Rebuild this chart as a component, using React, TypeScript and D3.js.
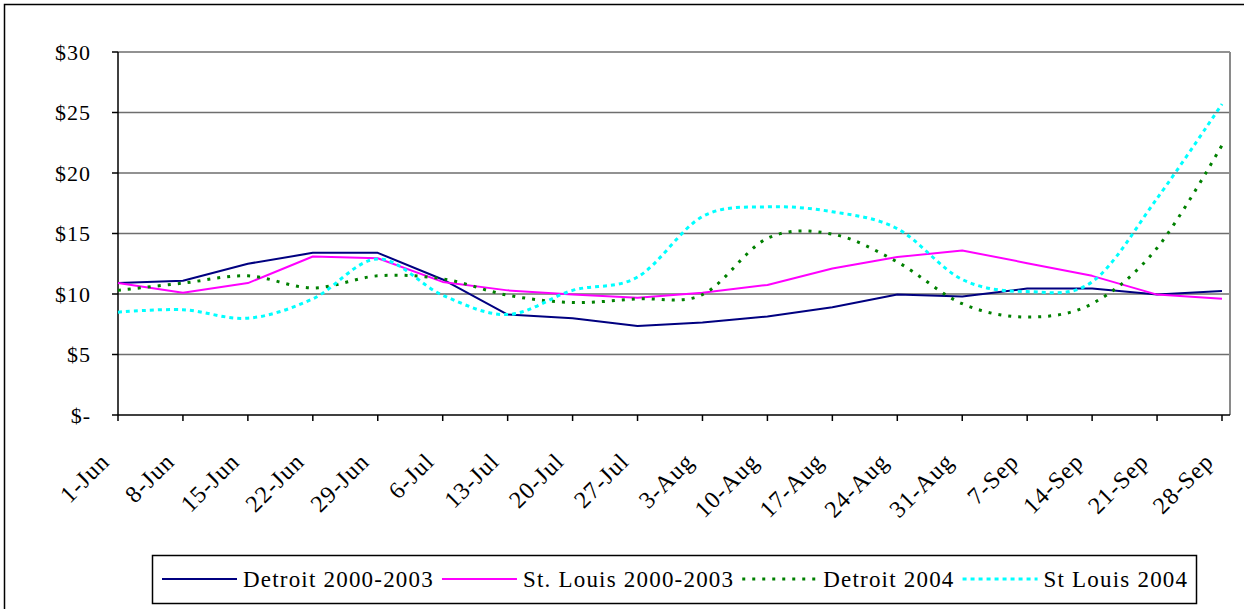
import React, { useEffect, useRef } from "react";
import * as d3 from "d3";

const categories = [
  "1-Jun", "8-Jun", "15-Jun", "22-Jun", "29-Jun", "6-Jul", "13-Jul", "20-Jul", "27-Jul",
  "3-Aug", "10-Aug", "17-Aug", "24-Aug", "31-Aug", "7-Sep", "14-Sep", "21-Sep", "28-Sep",
];

const detroit0003 = [10.9, 11.1, 12.5, 13.4, 13.4, 11.2, 8.3, 8.0, 7.35, 7.65, 8.15, 8.9, 9.95, 9.8, 10.45, 10.45, 9.95, 10.25];
const stlouis0003 = [10.9, 10.1, 10.9, 13.1, 12.95, 11.0, 10.3, 9.95, 9.7, 10.1, 10.75, 12.1, 13.05, 13.6, 12.55, 11.5, 9.95, 9.6];
const detroit2004 = [10.3, 10.9, 11.5, 10.5, 11.5, 11.25, 9.9, 9.3, 9.6, 9.95, 14.6, 14.95, 12.65, 9.2, 8.1, 9.2, 13.8, 22.3];
const stlouis2004 = [8.5, 8.7, 8.0, 9.6, 12.9, 9.9, 8.3, 10.3, 11.4, 16.4, 17.2, 16.8, 15.4, 11.2, 10.2, 11.0, 17.9, 25.7];

const yTicks = [0, 5, 10, 15, 20, 25, 30];
const yTickLabels = ["$-", "$5", "$10", "$15", "$20", "$25", "$30"];

const seriesNames = ["Detroit 2000-2003", "St. Louis 2000-2003", "Detroit 2004", "St Louis 2004"];
const seriesValues = [detroit0003, stlouis0003, detroit2004, stlouis2004];

const seriesStyles = [
  { color: "#000080", width: 2, dash: null as string | null, smooth: false },
  { color: "#FF00FF", width: 2, dash: null as string | null, smooth: false },
  { color: "#008000", width: 3, dash: "3,7", smooth: true },
  { color: "#00FFFF", width: 3, dash: "4,4", smooth: true },
];

const FONT = "'Liberation Serif', 'Times New Roman', serif";

export default function App() {
  const ref = useRef<SVGSVGElement | null>(null);

  useEffect(() => {
    document.body.style.margin = "0";
    const svg = d3.select(ref.current);
    svg.selectAll("*").remove();

    const W = 1244, H = 609;
    const left = 118, right = 1230, top = 52, bottom = 415;
    const lastX = 1222;

    const x = d3.scalePoint<string>().domain(categories).range([left, lastX]);
    const y = d3.scaleLinear().domain([0, 30]).range([bottom, top]);

    svg.append("rect").attr("width", W).attr("height", H).attr("fill", "#fff");

    // outer chart border
    svg.append("rect")
      .attr("x", 4.5).attr("y", 4.5).attr("width", W + 20).attr("height", H + 20)
      .attr("fill", "none").attr("stroke", "#000").attr("stroke-width", 1.5);

    // gridlines
    const g = svg.append("g");
    yTicks.forEach((t) => {
      if (t === 0) return;
      g.append("line")
        .attr("x1", left).attr("x2", right)
        .attr("y1", y(t)).attr("y2", y(t))
        .attr("stroke", "#6e6e6e").attr("stroke-width", 1.5);
    });
    // plot area right border
    g.append("line")
      .attr("x1", right).attr("x2", right).attr("y1", top).attr("y2", bottom)
      .attr("stroke", "#8a8a8a").attr("stroke-width", 2);

    // axes
    g.append("line")
      .attr("x1", left).attr("x2", left).attr("y1", top).attr("y2", bottom)
      .attr("stroke", "#000").attr("stroke-width", 1.5);
    g.append("line")
      .attr("x1", left).attr("x2", right).attr("y1", bottom).attr("y2", bottom)
      .attr("stroke", "#000").attr("stroke-width", 1.5);

    // y ticks and labels
    yTicks.forEach((t, i) => {
      g.append("line")
        .attr("x1", left - 6).attr("x2", left).attr("y1", y(t)).attr("y2", y(t))
        .attr("stroke", "#000").attr("stroke-width", 1.5);
      g.append("text")
        .attr("x", 91).attr("y", y(t)).attr("dy", "0.35em")
        .attr("text-anchor", "end")
        .attr("font-family", FONT).attr("font-size", 22).attr("letter-spacing", 1)
        .attr("fill", "#000")
        .text(yTickLabels[i]);
    });

    // x ticks and labels
    categories.forEach((c) => {
      const xx = x(c)!;
      g.append("line")
        .attr("x1", xx).attr("x2", xx).attr("y1", bottom).attr("y2", bottom + 6)
        .attr("stroke", "#000").attr("stroke-width", 1.5);
      g.append("text")
        .attr("transform", `translate(${xx - 13},${bottom + 42}) rotate(-45)`)
        .attr("text-anchor", "end").attr("dy", "0.35em")
        .attr("font-family", FONT).attr("font-size", 24).attr("letter-spacing", 1)
        .attr("fill", "#000")
        .text(c);
    });

    // series
    seriesValues.forEach((vals, si) => {
      const st = seriesStyles[si];
      const line = d3.line<number>()
        .x((_, i) => x(categories[i])!)
        .y((v) => y(v))
        .curve(st.smooth ? d3.curveCardinal.tension(0) : d3.curveLinear);
      const p = g.append("path")
        .attr("d", line(vals))
        .attr("fill", "none")
        .attr("stroke", st.color)
        .attr("stroke-width", st.width)
        .attr("stroke-linejoin", "round");
      if (st.dash) p.attr("stroke-dasharray", st.dash);
    });

    // legend
    const lg = svg.append("g");
    lg.append("rect")
      .attr("x", 152.5).attr("y", 555.5).attr("width", 1044).attr("height", 48)
      .attr("fill", "#fff").attr("stroke", "#000").attr("stroke-width", 1.5);
    let cx = 162;
    const ly = 579;
    seriesNames.forEach((name, si) => {
      const st = seriesStyles[si];
      const l = lg.append("line")
        .attr("x1", cx).attr("x2", cx + 75).attr("y1", ly).attr("y2", ly)
        .attr("stroke", st.color).attr("stroke-width", st.width);
      if (st.dash) l.attr("stroke-dasharray", st.dash);
      const t = lg.append("text")
        .attr("x", cx + 81).attr("y", ly).attr("dy", "0.35em")
        .attr("font-family", FONT).attr("font-size", 23).attr("letter-spacing", 1.2)
        .attr("fill", "#000")
        .text(name);
      const w = (t.node() as SVGTextElement).getComputedTextLength();
      cx = cx + 81 + w + 8;
    });
  }, []);

  return <svg ref={ref} width={1244} height={609} style={{ display: "block" }} />;
}
